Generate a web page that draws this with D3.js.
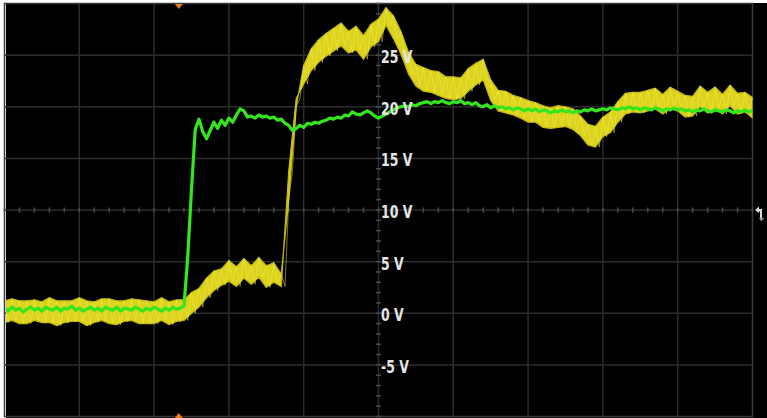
<!DOCTYPE html>
<html>
<head>
<meta charset="utf-8">
<script src="https://cdn.jsdelivr.net/npm/d3@7"></script>
<style>
  html, body { margin: 0; padding: 0; background: #fff; }
  svg { display: block; }
</style>
</head>
<body>
<div id="chart-area"></div>
<script>
let width = 767, height = 418;

// channel 1 (yellow) noise band, one sample every 0.1 div, volts
const ch1Hi = [1.2,1.4,1.2,1.2,1.3,1.1,1.5,1.2,1.2,1.2,
	1.5,1.2,1.1,1.4,1.4,1.2,1.2,1.4,1.3,1.2,
	1.1,1.5,1.1,1.3,1.3,2.0,2.4,3.4,4.1,4.3,
	5.1,4.5,5.3,4.6,5.4,4.6,4.9,3.8,11.0,20.0,
	24.0,25.6,26.5,27.1,27.6,28.1,27.3,27.8,26.9,28.0,
	28.5,29.6,28.8,27.3,25.3,24.1,23.8,23.5,23.4,22.9,
	22.9,22.8,23.7,24.2,24.6,22.6,21.6,21.5,21.1,20.9,
	20.6,20.4,20.1,19.9,20.1,20.0,19.8,19.1,18.3,18.1,
	19.0,19.5,20.5,21.3,21.4,21.4,21.6,21.8,21.2,21.9,
	21.5,21.1,21.0,22.0,21.4,21.9,21.2,22.1,21.3,21.4,
	20.9];
const ch1Lo = [-0.9,-0.7,-1.0,-1.0,-0.7,-0.9,-0.9,-1.2,-0.9,-0.8,
	-0.8,-1.2,-0.9,-0.7,-1.0,-1.1,-0.8,-0.7,-1.0,-1.0,
	-1.0,-0.7,-1.1,-0.8,-0.7,0.0,0.6,1.5,2.2,2.7,
	3.1,2.6,3.4,2.8,3.5,2.5,3.0,2.6,13.8,20.8,
	22.2,23.5,24.3,24.9,25.4,25.9,25.2,25.5,24.6,25.8,
	26.3,27.9,26.6,25.1,23.2,22.0,21.5,21.4,21.1,20.8,
	20.7,20.8,21.5,22.1,22.6,20.6,19.6,19.4,19.2,18.9,
	18.5,18.5,18.0,17.9,18.0,18.1,17.8,17.2,16.3,16.1,
	17.1,17.5,18.5,19.3,19.5,19.4,19.6,19.8,19.3,19.8,
	19.6,19.0,19.1,20.0,19.4,19.8,19.3,20.1,19.3,19.5,
	18.9];

// channel 2 (green), one sample every 0.05 div, volts
const ch2 = [0.5,0.2,0.6,0.3,0.5,0.1,0.4,0.6,0.3,0.5,
	0.2,0.6,0.4,0.3,0.6,0.2,0.5,0.4,0.7,0.3,
	0.5,0.2,0.4,0.6,0.3,0.5,0.2,0.6,0.4,0.3,
	0.6,0.2,0.5,0.4,0.3,0.6,0.4,0.2,0.5,0.3,
	0.6,0.4,0.2,0.5,0.3,0.6,0.4,0.5,0.7,
	5.5,12.0,17.8,18.8,17.6,16.9,17.7,18.5,17.9,18.7,
	18.2,18.9,18.5,19.2,19.8,19.6,19.0,19.1,18.9,19.2,
	19.0,19.1,18.9,19.0,18.7,18.8,18.4,18.2,17.7,17.9,
	18.2,18.0,18.4,18.3,18.5,18.4,18.6,18.7,18.9,18.8,
	19.0,18.9,19.2,19.1,19.5,19.3,19.2,19.4,19.6,19.4,
	19.1,18.9,19.1,19.3,19.5,19.7,19.9,20.0,20.1,20.0,
	20.2,20.1,20.3,20.4,20.5,20.3,20.5,20.4,20.6,20.4,
	20.3,20.5,20.4,20.6,20.3,20.4,20.2,20.4,20.1,20.0,
	20.2,19.9,20.1,19.9,20.0,19.8,19.9,19.7,19.9,19.8,
	19.6,19.8,
	19.6,19.8,19.5,19.7,19.6,19.4,19.6,19.5,19.7,19.5,
	19.6,19.4,19.6,19.5,19.7,19.6,19.8,19.6,19.7,19.8,
	19.7,19.9,19.8,19.7,19.9,19.8,20.0,19.8,19.9,19.7,
	19.9,19.8,19.7,19.9,19.8,19.6,19.8,19.7,19.9,19.7,
	19.8,19.6,19.7,19.5,19.7,19.6,19.8,19.6,19.5,19.7,
	19.6,19.5,19.7,19.6,19.4,19.6,19.5,19.7,19.5,19.6];

const voltTicks = [25, 20, 15, 10, 5, 0, -5];
const voltLabels = ["25 V", "20 V", "15 V", "10 V", "5 V", "0 V", "-5 V"];
const triggerDiv = 2.33;   // time of trigger marker, in divisions
const triggerLevel = 10;   // trigger level marker on right edge, volts

let svg = d3.select("#chart-area")
	.append("svg")
	.attr("width", width)
	.attr("height", height);

// screen
svg.append("rect")
	.attr("x", 6).attr("y", 3)
	.attr("width", width - 6).attr("height", height - 3)
	.attr("fill", "#000");

let xVal = d3.scaleLinear().domain([0, 10]).range([4.5, 752.5]);
let yVal = d3.scaleLinear().domain([-10, 30]).range([416.5, 3.5]);

let g = svg.append("g");

svg.append("clipPath").attr("id", "screen")
	.append("rect")
	.attr("x", 6).attr("y", 3.5)
	.attr("width", xVal(10) - 6).attr("height", yVal(-10) - 3.5);

// graticule
g.selectAll(".vgrid")
	.data(d3.range(1, 10))
	.enter().append("line")
	.attr("x1", d => xVal(d)).attr("x2", d => xVal(d))
	.attr("y1", yVal(30)).attr("y2", yVal(-10))
	.attr("stroke", "#2c2c2c").attr("stroke-width", 1.5);

g.selectAll(".hgrid")
	.data(d3.range(-5, 30, 5))
	.enter().append("line")
	.attr("x1", xVal(0)).attr("x2", xVal(10))
	.attr("y1", d => yVal(d)).attr("y2", d => yVal(d))
	.attr("stroke", "#2c2c2c").attr("stroke-width", 1.5);

g.append("rect")
	.attr("x", xVal(0)).attr("y", yVal(30))
	.attr("width", xVal(10) - xVal(0)).attr("height", yVal(-10) - yVal(30))
	.attr("fill", "none").attr("stroke", "#3a3a3a").attr("stroke-width", 1.5);

// centre axes with minor ticks
let cx = xVal(5), cy = yVal(10);
g.selectAll(".ytick")
	.data(d3.range(-10, 30.01, 1))
	.enter().append("line")
	.attr("x1", cx - 2.5).attr("x2", cx + 2.5)
	.attr("y1", d => yVal(d)).attr("y2", d => yVal(d))
	.attr("stroke", "#4a4a4a").attr("stroke-width", 1.5);

g.selectAll(".xtick")
	.data(d3.range(0, 10.01, 0.2))
	.enter().append("line")
	.attr("x1", d => xVal(d)).attr("x2", d => xVal(d))
	.attr("y1", cy - 2.5).attr("y2", cy + 2.5)
	.attr("stroke", "#4a4a4a").attr("stroke-width", 1.5);

// traces
let traces = svg.append("g").attr("clip-path", "url(#screen)");

let ch1Band = d3.area()
	.x((d, i) => xVal(i / 10))
	.y0((d, i) => yVal(ch1Lo[i]))
	.y1(d => yVal(d));

traces.append("path")
	.attr("d", ch1Band(ch1Hi))
	.attr("fill", "#ddd31c")
	.attr("stroke", "#c2b812")
	.attr("stroke-width", 1.2);

let zig = [];
ch1Hi.forEach((v, i) => {
	zig.push([i / 10, v]);
	zig.push([i / 10 + 0.05, ch1Lo[i]]);
});

traces.append("path")
	.attr("d", d3.line().x(p => xVal(p[0])).y(p => yVal(p[1]))(zig))
	.attr("fill", "none")
	.attr("stroke", "#f2ec56")
	.attr("stroke-opacity", 0.5)
	.attr("stroke-width", 1);

traces.append("path")
	.attr("d", d3.line().x((d, i) => xVal(i / 20)).y(d => yVal(d))(ch2))
	.attr("fill", "none")
	.attr("stroke", "#34e61c")
	.attr("stroke-width", 3.2)
	.attr("stroke-linejoin", "round");

// volt labels
let labels = svg.append("g")
	.selectAll("g")
	.data(voltTicks)
	.enter().append("g")
	.attr("transform", d => "translate(" + (cx + 2.5) + "," + (yVal(d) + 8) + ") scale(0.75,1)");

labels.append("text")
	.text((d, i) => voltLabels[i])
	.attr("fill", "#e6e6e6")
	.attr("font-family", "'DejaVu Sans Condensed', 'DejaVu Sans', sans-serif")
	.attr("font-weight", "bold")
	.attr("font-size", "18.5px");

// trigger markers
let tx = xVal(triggerDiv);
svg.append("path")
	.attr("d", "M" + (tx - 4) + "," + 4 + " L" + (tx + 4) + "," + 4 + " L" + tx + "," + 9 + " Z")
	.attr("fill", "#e57c1a");
svg.append("path")
	.attr("d", "M" + (tx - 4) + "," + 418 + " L" + (tx + 4) + "," + 418 + " L" + tx + "," + 413 + " Z")
	.attr("fill", "#e57c1a");

let ty = yVal(triggerLevel);
svg.append("path")
	.attr("d", "M755," + ty + " l4,-3.5 v2.5 h3 v9 h-2 v-6.5 h-1 v1.5 z")
	.attr("fill", "#dcdcdc");
svg.append("path")
	.attr("d", "M759," + (ty + 8) + " l2.5,3.5 l2.5,-3.5 z")
	.attr("fill", "#9a9a9a");
</script>
</body>
</html>
